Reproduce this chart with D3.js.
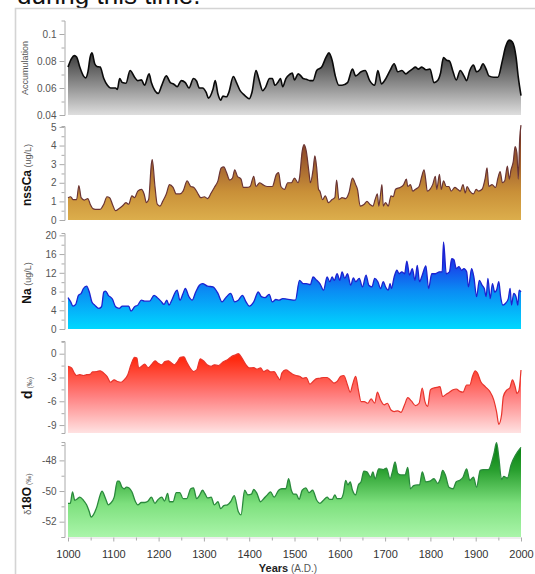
<!DOCTYPE html>
<html><head><meta charset="utf-8">
<script src="https://cdn.jsdelivr.net/npm/d3@7"></script>
<style>body{margin:0;background:#fff;}svg{display:block;font-family:Arial,"Liberation Sans",sans-serif;}</style>
</head><body><svg id="c" width="535" height="574"></svg>
<script>
const accYears=[1000,1008,1014,1019,1026,1034,1039,1044,1049,1053,1059,1064,1071,1079,1087,1094,1105,1109,1114,1120,1128,1137,1147,1154,1162,1169,1179,1184,1192,1199,1207,1217,1226,1233,1241,1250,1259,1267,1277,1284,1290,1297,1305,1310,1320,1325,1331,1337,1342,1350,1355,1365,1372,1380,1387,1395,1400,1406,1415,1421,1430,1436,1445,1451,1457,1463,1469,1474,1481,1489,1495,1500,1508,1514,1519,1526,1534,1541,1549,1560,1570,1576,1583,1590,1598,1605,1617,1628,1635,1647,1656,1666,1677,1684,1692,1699,1711,1720,1728,1737,1746,1752,1760,1767,1773,1781,1790,1799,1808,1816,1822,1829,1836,1842,1850,1857,1866,1874,1880,1887,1895,1902,1910,1916,1924,1929,1940,1949,1959,1966,1974,1981,1989,1994,2000];
const accValues=[.0755,.082,.084,.083,.0755,.069,.0675,.072,.083,.086,.078,.076,.0755,.067,.062,.060,.060,.059,.067,.064,.0635,.073,.068,.0655,.066,.062,.0705,.064,.058,.056,.062,.069,.064,.063,.061,.0655,.064,.060,.067,.065,.060,.060,.0567,.0525,.059,.0655,.0555,.051,.054,.0535,.0567,.0685,.064,.058,.0555,.053,.052,.0567,.073,.067,.058,.0605,.067,.067,.062,.064,.067,.061,.067,.070,.071,.066,.0705,.069,.067,.0665,.0655,.0655,.073,.0755,.083,.086,.0805,.069,.062,.062,.064,.074,.069,.072,.073,.0655,.062,.073,.063,.0655,.073,.078,.072,.073,.0705,.072,.074,.0755,.074,.0755,.0735,.074,.064,.0655,.0705,.0825,.0805,.080,.072,.066,.073,.069,.0655,.073,.077,.072,.074,.078,.073,.069,.068,.068,.0805,.0905,.0955,.094,.083,.068,.0543];

const caYears=[1000,1006,1011,1019,1024,1029,1036,1044,1049,1056,1064,1071,1079,1086,1092,1098,1105,1113,1120,1128,1134,1141,1147,1154,1162,1168,1173,1178,1184,1186,1192,1197,1203,1209,1217,1224,1232,1239,1247,1254,1263,1271,1278,1286,1293,1301,1308,1316,1323,1331,1338,1344,1350,1357,1363,1368,1374,1382,1387,1395,1402,1410,1415,1423,1430,1440,1451,1460,1465,1470,1478,1485,1493,1500,1508,1511,1517,1521,1526,1532,1535,1541,1545,1549,1553,1556,1562,1568,1575,1583,1589,1593,1598,1605,1613,1620,1628,1635,1639,1645,1654,1660,1666,1673,1678,1683,1686,1690,1693,1696,1701,1707,1713,1718,1723,1733,1741,1747,1750,1756,1761,1767,1775,1781,1786,1790,1793,1799,1805,1811,1814,1820,1824,1829,1835,1841,1846,1854,1860,1866,1872,1877,1881,1887,1895,1901,1906,1914,1921,1925,1929,1936,1944,1949,1954,1959,1964,1970,1974,1978,1983,1987,1991,1994,1997,2000];
const caValues=[1.2,1.25,1.1,1.1,1.85,1.2,1.07,1.15,.85,.6,.57,.57,.85,1.25,1.2,.85,.5,.62,.75,.93,.85,1.3,1.2,1.55,1.65,1.4,.93,1.1,3.0,3.25,1.8,.85,.75,1.0,1.4,1.9,1.75,1.4,1.4,1.55,2.1,1.8,1.75,1.45,1.2,1.25,1.15,1.45,1.75,2.1,2.8,2.85,2.55,2.15,2.25,2.7,2.35,2.2,1.75,1.75,1.8,2.35,1.8,2.0,1.9,1.8,1.8,2.45,2.55,1.8,1.65,2.0,2.0,2.25,2.0,2.25,3.7,4.05,3.7,2.55,2.0,2.7,3.45,2.8,1.65,1.55,1.1,1.3,.93,1.1,1.2,2.15,1.1,1.2,1.15,1.45,2.25,1.9,1.65,.75,.85,1.0,.85,.75,1.1,1.4,.75,1.4,1.9,.75,.93,.75,1.3,1.25,1.65,1.75,1.9,2.2,1.8,1.9,1.55,1.65,1.8,2.35,2.7,2.1,1.55,1.65,1.9,2.35,1.65,2.45,1.65,2.1,1.8,1.8,1.55,1.75,1.65,1.55,1.9,1.45,1.8,1.55,1.4,1.65,1.55,1.65,2.25,2.8,1.8,1.9,1.75,2.25,2.6,2.0,2.1,2.9,2.2,2.7,3.15,3.95,3.6,2.2,4.3,5.1];

const naYears=[1000,1006,1011,1017,1023,1029,1034,1041,1047,1053,1059,1068,1074,1079,1083,1089,1098,1105,1113,1120,1128,1134,1139,1147,1154,1162,1169,1180,1190,1197,1205,1212,1218,1223,1229,1237,1241,1247,1254,1259,1267,1274,1282,1290,1297,1308,1320,1331,1340,1350,1359,1368,1376,1385,1393,1400,1410,1420,1427,1435,1444,1451,1459,1466,1474,1483,1502,1511,1519,1526,1535,1541,1549,1556,1564,1572,1578,1583,1588,1594,1600,1605,1611,1617,1624,1630,1635,1643,1650,1658,1664,1671,1677,1684,1690,1696,1701,1707,1711,1714,1720,1726,1731,1737,1743,1748,1754,1760,1766,1771,1776,1782,1790,1796,1803,1811,1820,1826,1829,1835,1842,1847,1852,1857,1863,1869,1874,1880,1884,1891,1896,1902,1908,1914,1919,1923,1927,1932,1937,1942,1946,1951,1955,1960,1966,1972,1976,1979,1984,1989,1993,1996,2000];
const naValues=[6.7,5.8,4.9,5.25,7.2,7.6,8.65,9.15,7.9,5.7,5.1,4.4,4.75,7.9,8.1,7.2,6.4,4.75,4.4,4.9,4.9,4.9,3.8,4.75,5.1,6.15,5.95,5.95,7.2,6.7,5.95,5.25,6.15,5.1,6.15,7.9,8.3,6.15,7.6,8.65,6.9,6.15,7.9,9.35,9.7,9.15,9.0,7.6,5.8,6.9,7.6,5.8,6.15,7.2,5.8,4.9,5.8,7.9,6.9,6.7,7.4,5.8,6.3,6.15,6.5,6.4,6.15,10.4,9.7,9.7,9.5,11.1,10.4,9.7,8.3,11.1,10.1,11.1,10.4,11.8,10.4,12.2,10.8,11.8,9.35,10.9,10.1,10.8,9.0,11.5,9.35,9.0,10.8,10.1,8.65,10.1,9.0,8.3,9.7,8.65,11.1,12.55,11.8,12.2,11.8,14.5,11.5,12.9,10.4,13.6,10.1,11.5,13.5,8.65,11.8,11.8,12.2,12.2,18.6,11.8,12.2,15.0,14.8,12.9,13.3,12.55,12.9,12.2,9.0,12.9,11.1,6.9,10.4,9.35,8.65,6.9,10.8,6.5,9.7,7.9,8.3,10.1,6.9,5.1,5.5,6.5,8.65,5.1,7.6,6.9,5.1,8.3,7.9];

const dYears=[1000,1008,1014,1019,1026,1034,1041,1049,1054,1064,1071,1079,1086,1094,1102,1109,1117,1124,1132,1139,1147,1152,1156,1162,1169,1177,1184,1192,1199,1207,1214,1222,1229,1235,1241,1248,1256,1262,1269,1277,1284,1292,1299,1307,1316,1323,1332,1342,1352,1361,1370,1376,1384,1393,1400,1410,1417,1425,1432,1440,1447,1455,1462,1468,1472,1481,1489,1496,1504,1511,1519,1526,1534,1541,1549,1556,1564,1572,1579,1587,1594,1602,1609,1617,1623,1628,1635,1641,1647,1654,1662,1669,1677,1683,1690,1698,1705,1713,1720,1728,1735,1743,1750,1758,1767,1775,1782,1788,1794,1800,1806,1814,1821,1827,1835,1842,1850,1857,1865,1872,1880,1887,1893,1899,1904,1911,1921,1931,1940,1946,1951,1957,1961,1969,1975,1981,1987,1991,1995,2000];
const dValues=[-1.6,-1.8,-2.45,-2.75,-2.65,-2.75,-2.65,-2.6,-2.3,-2.25,-2.15,-2.45,-2.85,-3.6,-3.3,-3.5,-3.6,-3.3,-2.65,-1.4,-.45,-.55,-1.8,-1.6,-1.3,-1.75,-1.4,-.9,-1.2,-1.4,-1.0,-.9,-1.2,-1.4,-1.05,-.45,-.4,-1.05,-1.75,-2.25,-2.05,-.65,-.9,-1.4,-1.6,-1.4,-1.5,-1.05,-.75,-.35,-.15,0,-.55,-1.4,-1.8,-1.75,-1.95,-1.8,-2.25,-2.05,-2.3,-2.25,-2.85,-3.3,-2.45,-2.05,-2.3,-2.6,-2.75,-2.85,-3.1,-3.0,-3.85,-3.5,-3.15,-3.1,-3.0,-3.0,-3.3,-3.7,-3.5,-2.85,-2.75,-3.95,-4.85,-3.95,-2.85,-4.55,-6.05,-6.05,-6.25,-5.7,-6.25,-4.85,-5.85,-6.45,-6.25,-7.1,-7.3,-7.2,-7.4,-6.45,-5.55,-5.95,-6.55,-6.25,-4.35,-6.05,-6.65,-4.55,-4.35,-4.25,-4.15,-5.4,-5.1,-4.85,-4.55,-4.45,-4.75,-4.85,-3.95,-3.95,-2.85,-2.15,-2.45,-3.5,-4.15,-4.75,-5.85,-7.3,-8.9,-7.75,-5.4,-4.55,-4.35,-3.3,-4.15,-5.0,-4.75,-2.05];

const oYears=[1000,1005,1010,1015,1021,1026,1034,1041,1047,1051,1056,1064,1071,1075,1083,1089,1094,1102,1109,1113,1119,1124,1129,1135,1141,1149,1154,1162,1169,1177,1184,1192,1199,1207,1213,1220,1224,1232,1239,1247,1254,1262,1271,1277,1284,1290,1297,1302,1308,1316,1323,1331,1337,1344,1352,1359,1367,1376,1382,1390,1397,1405,1410,1417,1425,1432,1440,1447,1455,1465,1472,1481,1487,1493,1498,1504,1510,1517,1525,1532,1540,1549,1556,1564,1572,1578,1583,1589,1594,1602,1608,1613,1618,1623,1628,1635,1641,1647,1653,1660,1668,1673,1678,1686,1696,1703,1711,1716,1722,1728,1735,1744,1750,1756,1763,1771,1776,1782,1790,1799,1808,1816,1822,1827,1833,1841,1850,1857,1865,1872,1880,1887,1895,1902,1910,1917,1928,1940,1946,1951,1957,1962,1970,1978,1989,2000];
const oValues=[-50.8,-50.8,-50.05,-50.6,-50.5,-50.4,-50.6,-50.9,-51.35,-51.7,-51.55,-51.0,-50.25,-50.0,-50.5,-50.9,-50.8,-50.4,-49.35,-49.35,-49.75,-49.85,-49.75,-49.8,-50.05,-50.7,-50.9,-50.75,-50.75,-50.65,-50.4,-50.8,-50.55,-50.4,-50.65,-50.15,-50.7,-50.7,-50.1,-50.1,-50.5,-50.5,-49.85,-49.8,-50.5,-50.3,-49.95,-50.15,-50.45,-50.4,-50.9,-50.7,-51.15,-50.95,-50.9,-50.7,-50.3,-51.35,-51.55,-49.95,-50.25,-50.2,-49.9,-50.15,-50.7,-50.5,-50.25,-50.05,-50.4,-49.95,-49.85,-49.85,-49.2,-49.95,-50.2,-50.2,-50.55,-49.95,-49.8,-50.1,-49.95,-50.6,-50.8,-50.6,-50.4,-50.55,-50.55,-50.25,-50.5,-50.5,-50.15,-49.3,-49.6,-49.4,-49.95,-50.25,-49.6,-49.4,-48.7,-48.75,-49.1,-48.75,-49.2,-48.55,-48.6,-48.5,-49.2,-48.75,-48.1,-48.85,-48.95,-48.95,-48.45,-49.85,-49.65,-49.6,-49.6,-48.75,-49.4,-49.35,-49.2,-49.5,-49.2,-48.65,-48.95,-49.75,-49.85,-49.4,-49.3,-49.1,-48.55,-49.3,-49.1,-49.75,-48.65,-48.6,-48.6,-47.6,-46.85,-47.8,-49.25,-49.05,-49.15,-48.3,-47.6,-47.15];

const xTicks=[1000,1100,1200,1300,1400,1500,1600,1700,1800,1900,2000];
const xMinor=[1050,1150,1250,1350,1450,1550,1650,1750,1850,1950];

const svg=d3.select("#c");
// frame & title
svg.append("text").attr("x",17).attr("y",4).attr("font-size",26).attr("fill","#111").text("during this time.");
svg.append("path").attr("d","M15.5,574 V8.5 H535").attr("fill","none").attr("stroke","#d4d4d4").attr("stroke-width",1.6);

const x=d3.scaleLinear().domain([1000,2000]).range([68,521]);
const defs=svg.append("defs");

const panels=[
 {id:"acc",yrs:accYears,vals:accValues,dom:[0.04,0.11],rng:[115,20.5],major:[0.04,0.06,0.08,0.1],minor:[0.05,0.07,0.09],fmt:d=>d===0.1?"0.1":d.toFixed(2),
  g:[["0%","#000"],["35%","#3a3a3a"],["100%","#dedede"]],line:"#0a0a0a",lw:1.6},
 {id:"ca",yrs:caYears,vals:caValues,dom:[0,5.05],rng:[220,126],major:[0,1,2,3,4,5],minor:[.5,1.5,2.5,3.5,4.5],fmt:d=>String(d),
  g:[["0%","#6e2a1c"],["35%","#9c5a2e"],["70%","#c99038"],["100%","#dcae4c"]],line:"#6a3434",lw:1.2},
 {id:"na",yrs:naYears,vals:naValues,dom:[0,20.5],rng:[329,233],major:[0,4,8,12,16,20],minor:[2,6,10,14,18],fmt:d=>String(d),
  g:[["0%","#1414d8"],["30%","#1a3ae8"],["60%","#0a8cf4"],["100%","#00d8ff"]],line:"#1c22d0",lw:1.3},
 {id:"d",yrs:dYears,vals:dValues,dom:[-10,1.6],rng:[433,341],major:[0,-3,-6,-9],minor:[1.5,-1.5,-4.5,-7.5],fmt:d=>String(d),
  g:[["0%","#ff1a00"],["20%","#ff2a10"],["60%","#ff8080"],["100%","#ffe2e2"]],line:"#e8342c",lw:1.2},
 {id:"o",yrs:oYears,vals:oValues,dom:[-53,-46.8],rng:[537,442],major:[-48,-50,-52],minor:[-47,-49,-51,-53],fmt:d=>String(d),
  g:[["0%","#007a0a"],["30%","#2aa030"],["65%","#7ee07e"],["100%","#aaf5aa"]],line:"#2a8a3c",lw:1.3}
];

panels.forEach(p=>{
  const y=d3.scaleLinear().domain(p.dom).range(p.rng);
  const lg=defs.append("linearGradient").attr("id","g_"+p.id).attr("gradientUnits","userSpaceOnUse")
    .attr("x1",0).attr("x2",0).attr("y1",p.rng[1]).attr("y2",p.rng[0]);
  p.g.forEach(s=>lg.append("stop").attr("offset",s[0]).attr("stop-color",s[1]));
  const data=p.yrs.map((yr,i)=>({yr,v:p.vals[i]}));
  const area=d3.area().x(d=>x(d.yr)).y0(y(p.dom[0])).y1(d=>y(d.v)).curve(d3.curveMonotoneX);
  const line=d3.line().x(d=>x(d.yr)).y(d=>y(d.v)).curve(d3.curveMonotoneX);
  svg.append("path").datum(data).attr("d",area).attr("fill","url(#g_"+p.id+")");
  svg.append("path").datum(data).attr("d",line).attr("fill","none").attr("stroke",p.line).attr("stroke-width",p.lw).attr("stroke-linejoin","round");
  const ax=svg.append("g").attr("transform","translate(64.5,0)")
    .call(d3.axisLeft(y).tickValues(p.major).tickFormat(p.fmt).tickSize(5).tickSizeOuter(3).tickPadding(3));
  const axm=svg.append("g").attr("transform","translate(64.5,0)")
    .call(d3.axisLeft(y).tickValues(p.minor).tickFormat("").tickSize(3));
  axm.select(".domain").remove();
  [ax,axm].forEach(a=>{a.selectAll("line").attr("stroke","#aaa");a.select(".domain").attr("stroke","#aaa");
    a.selectAll("text").attr("fill","#555").attr("font-size",10).attr("font-family","Arial, Liberation Sans, sans-serif");});
});

// x axis
const xa=svg.append("g").attr("transform","translate(0,537.5)")
  .call(d3.axisBottom(x).tickValues(xTicks).tickFormat(d=>String(d)).tickSize(4).tickSizeOuter(0).tickPadding(9));
const xm=svg.append("g").attr("transform","translate(0,537.5)")
  .call(d3.axisBottom(x).tickValues(xMinor).tickFormat("").tickSize(3));
xm.select(".domain").remove();
[xa,xm].forEach(a=>{a.selectAll("line").attr("stroke","#aaa");a.select(".domain").attr("stroke","#ddd");
  a.selectAll("text").attr("fill","#333").attr("font-size",11).attr("font-family","Arial, Liberation Sans, sans-serif");});

const xl=svg.append("text").attr("x",288).attr("y",572).attr("text-anchor","middle");
xl.append("tspan").attr("font-weight","bold").attr("font-size",11).attr("fill","#222").text("Years");
xl.append("tspan").attr("font-size",10).attr("fill","#555").text(" (A.D.)");

// y labels
function ylab(xp,yp,parts){
  const t=svg.append("text").attr("transform",`translate(${xp},${yp}) rotate(-90)`).attr("text-anchor","middle");
  parts.forEach(pt=>t.append("tspan").attr("font-size",pt[1]).attr("font-weight",pt[2]?"bold":"normal").attr("fill",pt[2]?"#111":"#555").text(pt[0]));
}
ylab(28,68,[["Accumulation",9,false]]);
ylab(31,175,[["nssCa",12,true],[" (ug/L)",9,false]]);
ylab(31,283,[["Na",12,true],[" (ug/L)",9,false]]);
ylab(32,388,[["d",14,true],[" (‰)",7,false]]);
ylab(31,494,[["δ",9,false],["18O",12,true],[" (‰)",7,false]]);
</script></body></html>
